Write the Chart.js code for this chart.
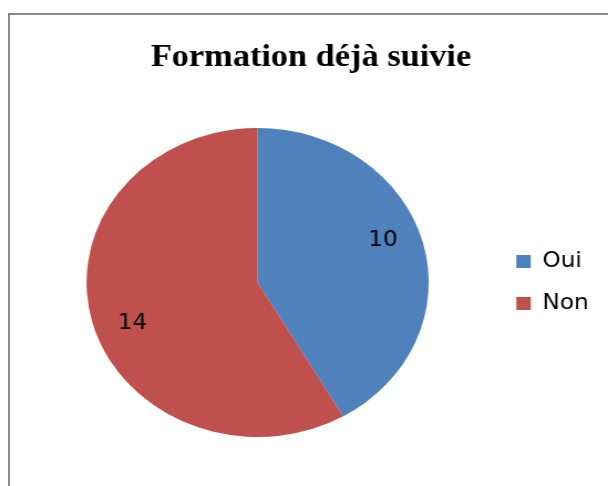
<!DOCTYPE html>
<html>
<head>
<meta charset="utf-8">
<script src="https://cdn.jsdelivr.net/npm/chart.js@4.4.1/dist/chart.umd.min.js"></script>
<style>
  html, body { margin: 0; padding: 0; background: #fff; overflow: hidden; }
  #frame { position: absolute; left: 8px; top: 13px; width: 700px; height: 600px; border: 2px solid #8a8a8a; }
  #chart { position: absolute; left: 0; top: 0; }
</style>
</head>
<body>
<div id="frame">
  <!-- drawn at 540 wide and stretched to 598, like the original picture -->
  <canvas id="chart" width="540" height="471" style="width:598px;height:471px"></canvas>
</div>
<script>
const titleText = 'Formation déjà suivie';
const categories = ['Oui', 'Non'];
const counts = [10, 14];
const sliceColors = ['#4F81BD', '#C0504D'];

// value labels inside each slice, a little before the middle of the arc
const sliceLabels = {
  id: 'sliceLabels',
  afterDatasetsDraw(chart) {
    const ctx = chart.ctx;
    const meta = chart.getDatasetMeta(0);
    ctx.save();
    ctx.font = '21px "DejaVu Sans"';
    ctx.fillStyle = '#000';
    ctx.textAlign = 'center';
    ctx.textBaseline = 'middle';
    meta.data.forEach((arc, i) => {
      const { x, y, startAngle, endAngle, outerRadius } = arc.getProps(['x', 'y', 'startAngle', 'endAngle', 'outerRadius'], true);
      const mid = (startAngle + endAngle) / 2 - 0.09;
      const r = outerRadius * 0.78;
      ctx.fillText(String(counts[i]), x + Math.cos(mid) * r, y + Math.sin(mid) * r);
    });
    ctx.restore();
  }
};

const ctx = document.getElementById('chart').getContext('2d');
new Chart(ctx, {
  type: 'pie',
  data: {
    labels: categories,
    datasets: [{
      data: counts,
      backgroundColor: sliceColors,
      borderWidth: 0,
    }],
  },
  options: {
    responsive: false,
    animation: false,
    layout: {
      padding: { left: 11, right: 7.4, top: 0, bottom: 49 },
    },
    plugins: {
      title: {
        display: true,
        text: titleText,
        color: '#000',
        font: { family: '"Liberation Serif", "Times New Roman", serif', size: 31, weight: 'bold', lineHeight: 1.2 },
        padding: { top: 24, bottom: 51.8 },
      },
      legend: {
        position: 'right',
        fullSize: false,
        labels: {
          color: '#000',
          font: { family: '"DejaVu Sans"', size: 21 },
          boxWidth: 13,
          boxHeight: 13,
          padding: 21,
        },
      },
      tooltip: { enabled: false },
    },
  },
  plugins: [sliceLabels],
});
</script>
</body>
</html>
